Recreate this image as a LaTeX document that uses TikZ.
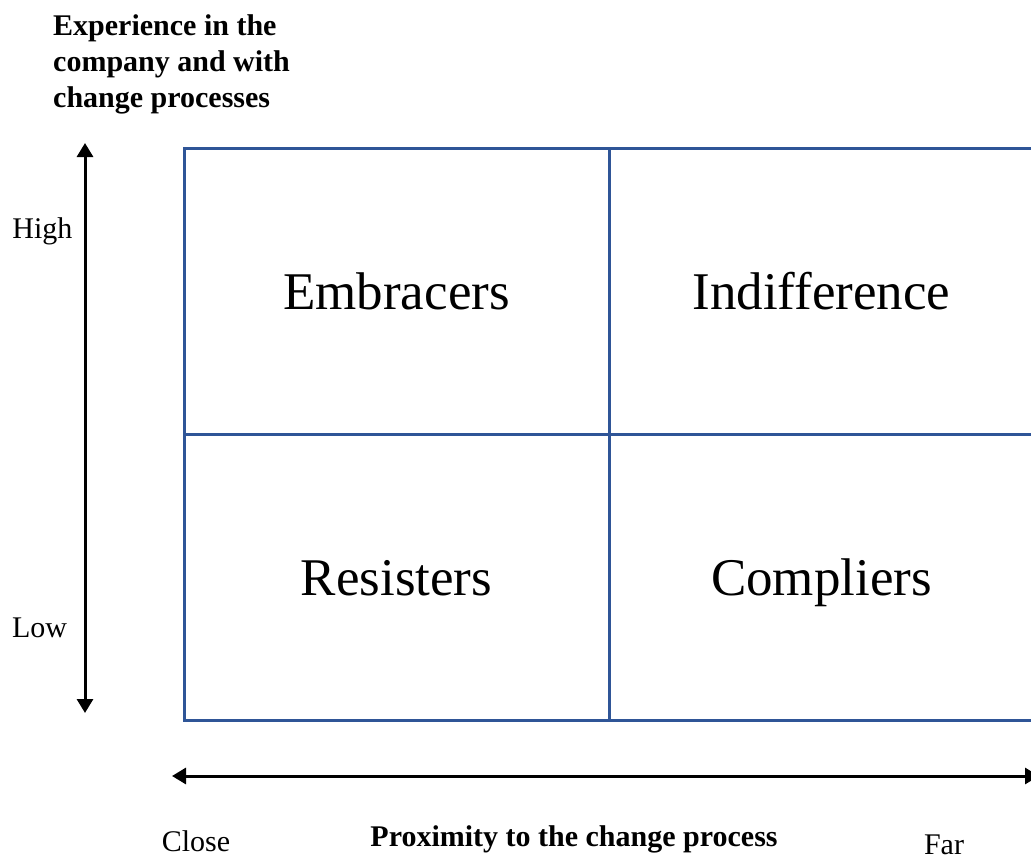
\documentclass[tikz,border=0pt]{standalone}
\usepackage{fontspec}
\setmainfont{Liberation Serif}
\usetikzlibrary{arrows.meta}
\definecolor{gridblue}{HTML}{2F5597}
\begin{document}
\begin{tikzpicture}[x=1pt,y=-1pt,
  cell/.style={draw=gridblue,line width=3pt,minimum width=425pt,minimum height=286pt,
    inner sep=0pt,font=\fontsize{53}{60}\selectfont,text height=36pt,text depth=0pt},
  axislabel/.style={inner sep=0pt,anchor=base,font=\fontsize{30}{36}\selectfont},
  axisarrow/.style={line width=3pt,{Triangle[length=14pt,width=16pt]}-{Triangle[length=14pt,width=16pt]}}]
\useasboundingbox (0,0) rectangle (1031,859);
\clip (0,0) rectangle (1031,859);

% quadrant grid
\node[cell] (emb) at (396.5,291) {Embracers};
\node[cell] (ind) at (821.5,291) {Indifference};
\node[cell] (res) at (396.5,577) {Resisters};
\node[cell] (com) at (821.5,577) {Compliers};

% vertical axis
\coordinate (vtop) at (85,143);
\coordinate (vbot) at (85,713);
\draw[axisarrow] (vtop) -- (vbot);
\node[inner sep=0pt,anchor=north west,align=left,font=\fontsize{30}{36}\selectfont\bfseries]
  (ytitle) at (53,14.8) {Experience in the\\company and with\\change processes};
\node[axislabel] (high) at (42.5,238) {High};
\node[axislabel] (low) at (39.5,637) {Low};

% horizontal axis
\coordinate (hleft) at (172,776);
\coordinate (hright) at (1039,776);
\draw[axisarrow] (hleft) -- (hright);
\node[axislabel] (close) at (196,851) {Close};
\node[axislabel,font=\fontsize{30}{36}\selectfont\bfseries] (xtitle) at (574,846) {Proximity to the change process};
\node[axislabel] (far) at (944,854) {Far};
\end{tikzpicture}
\end{document}
